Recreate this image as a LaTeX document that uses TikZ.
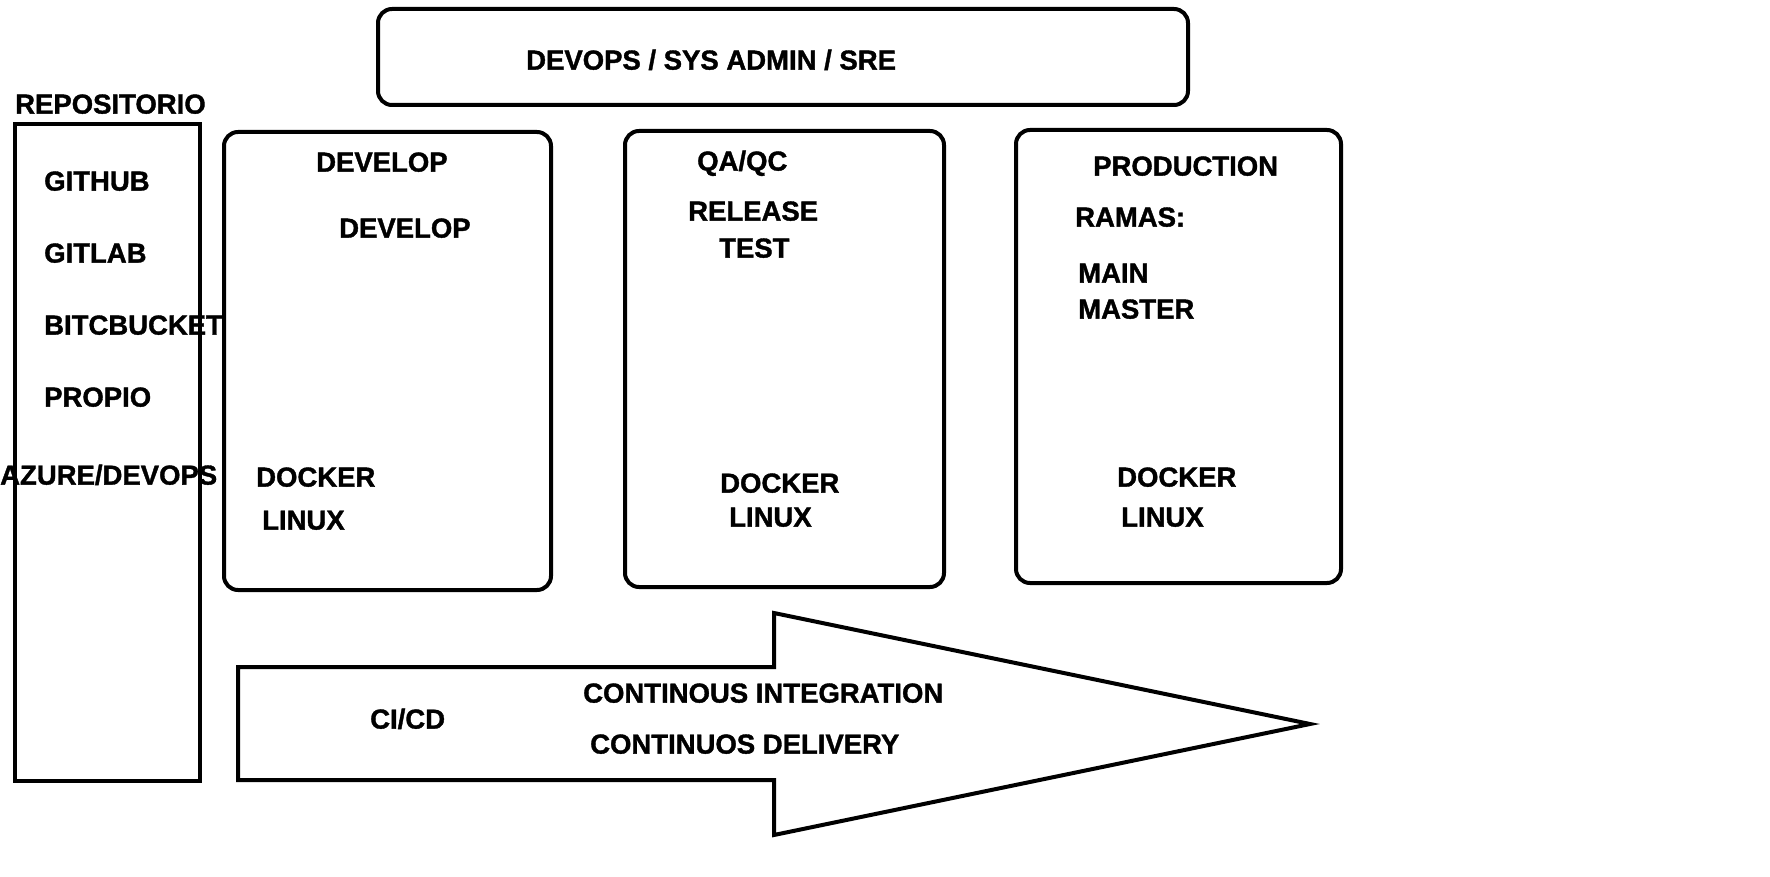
\documentclass[tikz,border=0pt]{standalone}
\usepackage{xcolor}
\usepackage{tikz}
\usepackage{fontspec}
\setmainfont{Liberation Sans}[BoldFeatures={FakeBold=1.3}]

\begin{document}
\begin{tikzpicture}[x=1pt,y=1pt,yscale=-1,xscale=1,
  lbl/.style={anchor=west,inner sep=0pt,text height=0.72em,text depth=0pt,font=\fontsize{27.5}{33}\selectfont\bfseries},
  envbox/.style={line width=4pt,rounded corners=14pt},
  plainbox/.style={line width=4pt}]
\useasboundingbox (0,0) rectangle (1770,877);

\draw [envbox]  (378,9) rectangle (1188,105) ;
\draw [plainbox]  (15,124) rectangle (200,781) ;
\draw [envbox]  (224,132) rectangle (551,590) ;
\draw [envbox]  (625,131) rectangle (944,587) ;
\draw [envbox]  (1016,130) rectangle (1341,583) ;

\draw [plainbox,line join=miter]  (238,667) -- (774,667) -- (774,613) -- (1310,724) -- (774,835) -- (774,780) -- (238,780) -- cycle ;


\draw (526,66) node [lbl] (devops) {DEVOPS / SYS ADMIN / SRE};
\draw (15,110) node [lbl] (repo) {REPOSITORIO};
\draw (44,187) node [lbl] (github) {GITHUB};
\draw (44,259) node [lbl] (gitlab) {GITLAB};
\draw (44,331) node [lbl] (bitbucket) {BITCBUCKET};
\draw (44,403) node [lbl] (propio) {PROPIO};
\draw (0,481) node [lbl] (azure) {AZURE/DEVOPS};

\draw (316,168) node [lbl] (devtitle) {DEVELOP};
\draw (339,234) node [lbl] (devbranch) {DEVELOP};
\draw (256,483) node [lbl] (devdocker) {DOCKER};
\draw (262,526) node [lbl] (devlinux) {LINUX};

\draw (697,167) node [lbl] (qatitle) {QA/QC};
\draw (688,217) node [lbl] (qarelease) {RELEASE};
\draw (719,254) node [lbl] (qatest) {TEST};
\draw (720,489) node [lbl] (qadocker) {DOCKER};
\draw (729,523) node [lbl] (qalinux) {LINUX};

\draw (1093,172) node [lbl] (prodtitle) {PRODUCTION};
\draw (1075,223) node [lbl] (prodramas) {RAMAS:};
\draw (1078,279) node [lbl] (prodmain) {MAIN};
\draw (1078,315) node [lbl] (prodmaster) {MASTER};
\draw (1117,483) node [lbl] (proddocker) {DOCKER};
\draw (1121,523) node [lbl] (prodlinux) {LINUX};

\draw (370,725) node [lbl] (cicd) {CI/CD};
\draw (583,699) node [lbl] (ci) {CONTINOUS INTEGRATION};
\draw (590,750) node [lbl] (cd) {CONTINUOS DELIVERY};
\end{tikzpicture}
\end{document}
